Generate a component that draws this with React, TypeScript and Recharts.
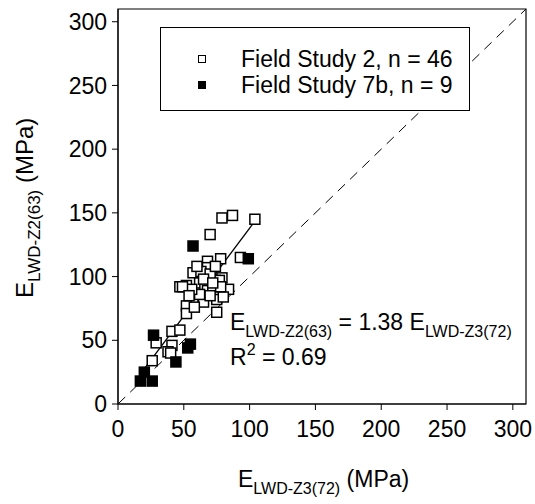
import { ScatterChart, Scatter, XAxis, YAxis, ReferenceLine, ReferenceArea, Legend } from 'recharts';

const font = 'Liberation Sans, Arial, sans-serif';

// Field Study 2 (open squares)
const study2X = [79, 87, 104, 70, 78, 93, 68, 68, 57, 63, 79, 74, 77, 47, 52, 62, 66, 84, 68, 57, 75, 65,
    75, 52, 52, 29, 41, 47, 41, 38, 40, 26, 60, 70, 72, 62, 70, 80, 56, 74, 49, 65, 78, 58, 72, 54];
const study2Y = [146, 148, 145, 133, 114, 115, 112, 107, 103, 104, 99, 97, 97, 92, 93, 95, 92, 90, 89, 81, 82, 80,
    72, 77, 71, 48, 57, 58, 46, 41, 40, 34, 108, 102, 92, 86, 85, 84, 90, 108, 92, 98, 92, 76, 95, 85];

// Field Study 7b (filled squares)
const study7bX = [57, 99, 27, 55, 53, 44, 20, 17, 26];
const study7bY = [124, 114, 54, 47, 44, 33, 25, 18, 18];

const ticks = [0, 50, 100, 150, 200, 250, 300];
const axisMax = 310;
const slope = 1.38;
const r2 = 0.69;

const study2 = study2X.map((x, i) => ({ x, y: study2Y[i] }));
const study7b = study7bX.map((x, i) => ({ x, y: study7bY[i] }));

const allX = [...study2X, ...study7bX];
const xMin = Math.min(...allX);
const xMax = Math.max(...allX);

const seriesStyle: Record<string, string> = {
    'Field Study 2, n = 46': '#fff',
    'Field Study 7b, n = 9': '#000',
};

const square = (fill: string) => (props: any) => (
    <rect x={props.cx - 5} y={props.cy - 5} width={10} height={10} fill={fill} stroke="#000" strokeWidth={1.5} />
);

const LegendBox = (props: any) => (
    <div style={{
        boxSizing: 'border-box', width: 310, height: 84, border: '1px solid #000', background: '#fff',
        paddingTop: 18, fontFamily: font, fontSize: 23,
    }}>
        {props.payload.map((entry: any) => (
            <div key={entry.value} style={{ height: 26, lineHeight: '26px', display: 'flex', alignItems: 'center' }}>
                <span style={{
                    display: 'inline-block', boxSizing: 'border-box', width: 8, height: 8, marginLeft: 37, marginRight: 35,
                    border: '1px solid #000', background: seriesStyle[entry.value],
                }} />
                <span>{entry.value}</span>
            </div>
        ))}
    </div>
);

const tickStyle = { fill: '#000', fontSize: 23, fontFamily: font };

export default function App() {
    return (
        <div style={{ position: 'absolute', left: 0, top: 0 }}>
            <ScatterChart width={535} height={504} margin={{ top: 9, right: 9, left: 0, bottom: 0 }}>
                <XAxis type="number" dataKey="x" domain={[0, axisMax]} ticks={ticks} height={100}
                    tick={tickStyle} tickSize={6} tickMargin={11} stroke="#000" />
                <YAxis type="number" dataKey="y" domain={[0, axisMax]} ticks={ticks} width={118}
                    tick={tickStyle} tickSize={6} tickMargin={5} stroke="#000" />
                <ReferenceArea x1={0} x2={axisMax} y1={0} y2={axisMax} fill="none" stroke="#000" strokeWidth={1.2} />
                <ReferenceLine segment={[{ x: 0, y: 0 }, { x: axisMax, y: axisMax }]} stroke="#000" strokeWidth={1} strokeDasharray="10 7" />
                <ReferenceLine segment={[{ x: xMin, y: slope * xMin }, { x: xMax, y: slope * xMax }]} stroke="#000" strokeWidth={1.3} />
                <Scatter name="Field Study 2, n = 46" data={study2} fill="#fff" shape={square('#fff')} isAnimationActive={false} />
                <Scatter name="Field Study 7b, n = 9" data={study7b} fill="#000" shape={square('#000')} isAnimationActive={false} />
                <Legend layout="horizontal" verticalAlign="middle" align="center" content={LegendBox}
                    wrapperStyle={{ position: 'absolute', left: 160, top: 27, width: 310, height: 84 }} />
                <text x={230} y={330} fontFamily={font} fontSize={23} fill="#000">
                    E<tspan fontSize={16} dy={7}>LWD-Z2(63)</tspan>
                    <tspan dy={-7}>{` = ${slope} E`}</tspan>
                    <tspan fontSize={16} dy={7}>LWD-Z3(72)</tspan>
                </text>
                <text x={230} y={365} fontFamily={font} fontSize={23} fill="#000">
                    R<tspan fontSize={16} dy={-10}>2</tspan>
                    <tspan dy={10}>{` = ${r2}`}</tspan>
                </text>
                <text x={238} y={487} fontFamily={font} fontSize={23} fill="#000">
                    E<tspan fontSize={16} dy={7}>LWD-Z3(72)</tspan>
                    <tspan dy={-7}> (MPa)</tspan>
                </text>
                <text transform="rotate(-90)" x={-298} y={33} fontFamily={font} fontSize={24} fill="#000">
                    E<tspan fontSize={17} dy={7}>LWD-Z2(63)</tspan>
                    <tspan dy={-7}> (MPa)</tspan>
                </text>
            </ScatterChart>
        </div>
    );
}
